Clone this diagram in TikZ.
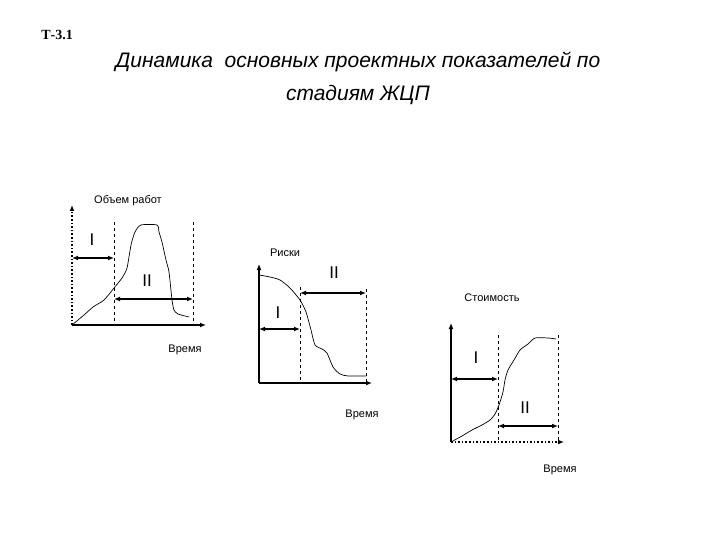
\documentclass[tikz,border=0pt]{standalone}
\usepackage{fontspec}
\setmainfont{Liberation Sans}
\newfontfamily\serif{Liberation Serif}
\usetikzlibrary{arrows.meta}
\begin{document}
\begin{tikzpicture}[x=1pt,y=-1pt,
  axis/.style={line width=1.6pt,-{Latex[length=6pt,width=5pt]}},
  daxis/.style={line width=1.6pt,dotted,-{Latex[length=6pt,width=5pt]}},
  dline/.style={dashed,line width=0.6pt},
  span/.style={line width=1.6pt,{Latex[length=6pt,width=5pt]}-{Latex[length=6pt,width=5pt]}},
  curve/.style={line width=0.7pt},
  lbl/.style={font=\fontsize{11}{13}\selectfont},
  roman/.style={font=\fontsize{17}{19}\selectfont}]
\useasboundingbox (0,0) rectangle (720,540);
\node[font=\serif\bfseries\fontsize{14}{16}\selectfont] (t) at (57,35) {Т-3.1};
\node[font=\itshape\fontsize{21}{24}\selectfont] (h1) at (358,62) {Динамика\ \ основных проектных показателей по};
\node[font=\itshape\fontsize{21}{24}\selectfont] (h2) at (358,95) {стадиям ЖЦП};
% chart 1
\coordinate (o1) at (72,325); \coordinate (y1) at (72,205); \coordinate (x1) at (206,325);
\draw[daxis] (o1) -- (y1);
\draw[axis] (o1) -- (x1);
\coordinate (d1a) at (114,222); \coordinate (d1ab) at (114,325);
\coordinate (d1b) at (193,222); \coordinate (d1bb) at (193,325);
\draw[dline] (d1a) -- (d1ab); \draw[dline] (d1b) -- (d1bb);
\coordinate (s1a) at (72,258); \coordinate (s1b) at (114,258);
\draw[span] (s1a) -- (s1b);
\coordinate (s1c) at (114,299); \coordinate (s1d) at (193,299);
\draw[span] (s1c) -- (s1d);
\node[roman] (r1a) at (92,240) {I};
\node[roman] (r1b) at (147,281) {II};
\draw[curve] plot[smooth,tension=0.4] coordinates {(72,325) (84,315) (93,307) (104,300) (114,288) (122,278) (127,268) (131,245) (135,232) (141,225) (157,225) (159,232) (162,242) (166,260) (169,272) (172,300) (174,310) (178,314) (189,317)};
\node[lbl] (l1y) at (128,201) {Объем работ};
\node[lbl] (l1x) at (185,350) {Время};
% chart 2
\coordinate (o2) at (259,383); \coordinate (y2) at (259,264); \coordinate (x2) at (372,383);
\draw[axis] (o2) -- (y2);
\draw[axis] (o2) -- (x2);
\coordinate (d2a) at (300,287); \coordinate (d2ab) at (300,383);
\coordinate (d2b) at (366,289); \coordinate (d2bb) at (366,383);
\draw[dline] (d2a) -- (d2ab); \draw[dline] (d2b) -- (d2bb);
\coordinate (s2a) at (259,329); \coordinate (s2b) at (300,329);
\draw[span] (s2a) -- (s2b);
\coordinate (s2c) at (300,293); \coordinate (s2d) at (366,293);
\draw[span] (s2c) -- (s2d);
\node[roman] (r2a) at (278,313) {I};
\node[roman] (r2b) at (334,273) {II};
\draw[curve] plot[smooth,tension=0.4] coordinates {(259,275) (270,277) (280,280) (290,288) (300,300) (306,312) (311,330) (315,345) (322,349) (327,353) (333,367) (340,374) (348,376) (366,376)};
\node[lbl] (l2y) at (285,253) {Риски};
\node[lbl] (l2x) at (362,415) {Время};
% chart 3
\coordinate (o3) at (451,442); \coordinate (y3) at (451,323); \coordinate (x3) at (564,442);
\draw[axis] (o3) -- (y3);
\draw[daxis] (o3) -- (x3);
\coordinate (d3a) at (498,335); \coordinate (d3ab) at (498,442);
\coordinate (d3b) at (558,335); \coordinate (d3bb) at (558,442);
\draw[dline] (d3a) -- (d3ab); \draw[dline] (d3b) -- (d3bb);
\coordinate (s3a) at (451,379); \coordinate (s3b) at (498,379);
\draw[span] (s3a) -- (s3b);
\coordinate (s3c) at (498,426); \coordinate (s3d) at (558,426);
\draw[span] (s3c) -- (s3d);
\node[roman] (r3a) at (476,358) {I};
\node[roman] (r3b) at (525,408) {II};
\draw[curve] plot[smooth,tension=0.4] coordinates {(451,442) (462,436) (472,430) (482,425) (490,420) (495,414) (499,405) (503,392) (505,380) (508,370) (514,360) (520,350) (528,344) (535,338) (548,338) (556,339)};
\node[lbl] (l3y) at (492,298) {Стоимость};
\node[lbl] (l3x) at (560,470) {Время};
\end{tikzpicture}
\end{document}
